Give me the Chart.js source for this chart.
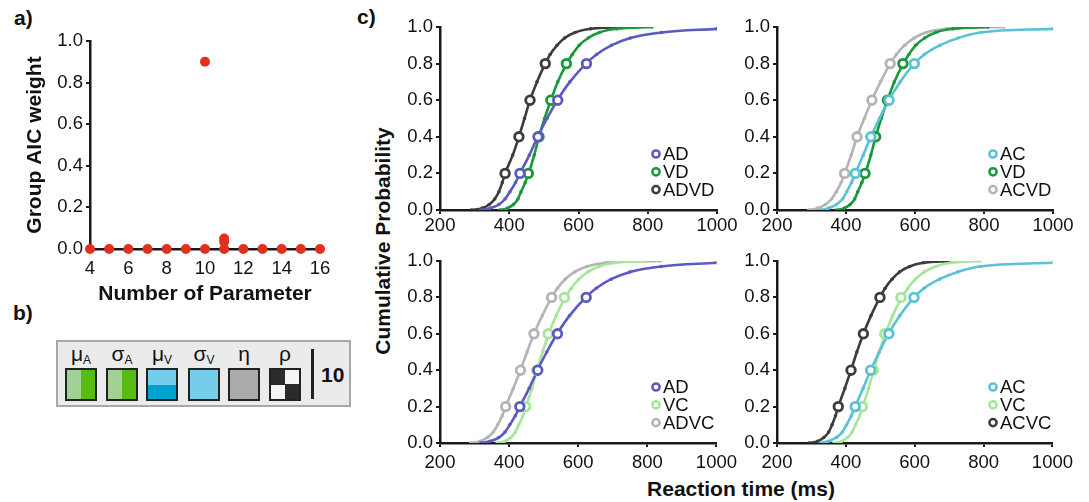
<!DOCTYPE html>
<html lang="en">
<head>
  <meta charset="UTF-8">
  <title>AIC weights and RT distributions</title>
  <script src="https://cdn.jsdelivr.net/npm/chart.js"></script>
  <style>
    body {
      margin: 0;
      background: #fff;
      font-family: "Liberation Sans", Arial, sans-serif;
      color: #111;
    }
    #page {
      position: relative;
      width: 1089px;
      height: 502px;
      overflow: hidden;
    }
    canvas, .abs {
      position: absolute;
    }
    .panel-label {
      font-weight: bold;
      font-size: 21px;
    }
    .axis-title {
      font-weight: bold;
      font-size: 21px;
      white-space: nowrap;
      transform: translate(-50%, -50%);
    }
    #paramBox {
      left: 56px;
      top: 340px;
      width: 295px;
      height: 67px;
      box-sizing: border-box;
      background: #ebebeb;
      border: 2px solid #a8a8a8;
    }
    .sq {
      top: 368px;
      width: 32px;
      height: 33px;
      box-sizing: border-box;
      border: 2px solid #222;
      overflow: hidden;
    }
    .greek {
      top: 343px;
      width: 40px;
      text-align: center;
      font-size: 21px;
      line-height: 21px;
    }
    .greek span {
      font-size: 12px;
      position: relative;
      top: 3px;
    }
  </style>
</head>
<body>
<div id="page">
  <div class="abs panel-label" style="left:14px;top:6px">a)</div>
  <div class="abs panel-label" style="left:13px;top:301px">b)</div>
  <div class="abs panel-label" style="left:357px;top:5px">c)</div>

  <!-- panel b: parameter key of the winning model -->
  <div class="abs" id="paramBox"></div>
  <div class="abs greek" style="left:61px">μ<span>A</span></div>
  <div class="abs greek" style="left:102px">σ<span>A</span></div>
  <div class="abs greek" style="left:142px">μ<span>V</span></div>
  <div class="abs greek" style="left:184px">σ<span>V</span></div>
  <div class="abs greek" style="left:224px">η</div>
  <div class="abs greek" style="left:265px">ρ</div>
  <div class="abs sq" style="left:65px;background:linear-gradient(to right,#a0d295 50%,#56bb12 50%)"></div>
  <div class="abs sq" style="left:106px;background:linear-gradient(to right,#a0d295 50%,#56bb12 50%)"></div>
  <div class="abs sq" style="left:146px;background:linear-gradient(to bottom,#74cdea 50%,#00a2d4 50%)"></div>
  <div class="abs sq" style="left:188px;background:#74cdea"></div>
  <div class="abs sq" style="left:228px;background:#aaaaaa"></div>
  <div class="abs sq" style="left:269px;background:conic-gradient(#f5f5f5 0 25%,#2b2b2b 0 50%,#f5f5f5 0 75%,#2b2b2b 0)"></div>
  <div class="abs" style="left:311px;top:349px;width:3px;height:50px;background:#222"></div>
  <div class="abs" style="left:321px;top:363px;font-weight:bold;font-size:21px;line-height:23px">10</div>

  <div class="abs axis-title" style="left:383px;top:241px;transform:translate(-50%,-50%) rotate(-90deg)">Cumulative Probability</div>
  <div class="abs axis-title" style="left:741px;top:489px">Reaction time (ms)</div>
</div>

<script>
  // ---- panel a: group AIC weight per number of parameters ----
  const aicParams  = [4, 5, 6, 7, 8, 9, 10, 10, 11, 11, 11, 12, 13, 14, 15, 16];
  const aicWeights = [0, 0, 0, 0, 0, 0, 0.9, 0, 0.05, 0.035, 0, 0, 0, 0, 0, 0];

  // ---- panel c: cumulative RT distributions ----
  const cdfLevels = [0, 0.01, 0.03, 0.06, 0.1, 0.15, 0.2, 0.3, 0.4, 0.5, 0.6, 0.7, 0.8, 0.85, 0.9, 0.94, 0.97, 0.99, 1];
  const rtAD   = [318, 345, 370, 388, 402, 418, 431, 458, 482, 509, 539, 575, 622, 652, 695, 750, 840, 1000, null];
  const rtVD   = [372, 395, 412, 425, 434, 446, 456, 472, 486, 502, 520, 540, 566, 582, 602, 628, 660, 710, 812];
  const rtADVD = [290, 322, 342, 358, 370, 380, 388, 410, 428, 444, 460, 480, 504, 518, 538, 560, 590, 635, 730];
  const rtAC   = [326, 350, 372, 390, 402, 416, 427, 450, 472, 497, 524, 557, 598, 627, 672, 725, 790, 1000, null];
  const rtACVD = [292, 318, 340, 358, 372, 386, 396, 415, 432, 453, 475, 500, 528, 546, 570, 598, 632, 690, 857];
  const rtVC   = [366, 388, 405, 418, 428, 440, 449, 466, 481, 497, 515, 536, 563, 580, 602, 628, 660, 705, 790];
  const rtADVC = [289, 316, 337, 354, 367, 380, 390, 412, 433, 452, 472, 496, 523, 540, 562, 590, 625, 680, 837];
  const rtACVC = [292, 318, 336, 350, 360, 370, 378, 397, 415, 432, 451, 473, 499, 514, 534, 556, 585, 625, 706];

  // observed quantiles (open circles)
  const quantLevels = [0.2, 0.4, 0.6, 0.8];
  const qAD   = [431, 483, 540, 623];
  const qVD   = [455, 486, 520, 565];
  const qADVD = [388, 428, 460, 504];
  const qAC   = [427, 472, 525, 598];
  const qACVD = [396, 432, 475, 528];
  const qVC   = [448, 480, 513, 560];
  const qADVC = [390, 433, 472, 523];
  const qACVC = [378, 415, 451, 499];

  const curves = {
    AD:   { rt: rtAD,   q: qAD,   color: '#5b5bbf' },
    VD:   { rt: rtVD,   q: qVD,   color: '#17993b' },
    ADVD: { rt: rtADVD, q: qADVD, color: '#3d3d3d' },
    AC:   { rt: rtAC,   q: qAC,   color: '#5bc1d6' },
    ACVD: { rt: rtACVD, q: qACVD, color: '#b4b4b4' },
    VC:   { rt: rtVC,   q: qVC,   color: '#a6e59c' },
    ADVC: { rt: rtADVC, q: qADVC, color: '#b4b4b4' },
    ACVC: { rt: rtACVC, q: qACVC, color: '#3d3d3d' }
  };

  Chart.defaults.font.family = '"Liberation Sans", Arial, sans-serif';
  Chart.defaults.color = '#111';
  Chart.defaults.animation = false;

  const AXIS = '#1a1a1a';
  const TICK_SIZE = 18.5;

  function axis(extra) {
    return Object.assign({
      type: 'linear',
      border: { display: true, color: AXIS, width: 2.5 },
      grid: { drawOnChartArea: false, drawTicks: true, tickLength: 4, color: AXIS, lineWidth: 2 },
    }, extra);
  }

  // put a canvas on the page so that the plot area lands on the given box
  function addCanvas(id, area, pad) {
    const c = document.createElement('canvas');
    c.id = id;
    c.width = area.right - area.left + pad.left + pad.right;
    c.height = area.bottom - area.top + pad.top + pad.bottom;
    c.style.left = (area.left - pad.left) + 'px';
    c.style.top = (area.top - pad.top) + 'px';
    document.getElementById('page').appendChild(c);
    return c;
  }

  // ---- panel a ----
  const cA = addCanvas('aicChart', { left: 90, top: 41, right: 320, bottom: 249 },
                       { left: 90, top: 41, right: 25, bottom: 61 });
  new Chart(cA, {
    type: 'scatter',
    data: {
      datasets: [{
        data: aicParams.map((p, i) => ({ x: p, y: aicWeights[i] })),
        backgroundColor: '#e0301e',
        borderWidth: 0,
        pointRadius: 5,
        clip: false
      }]
    },
    options: {
      responsive: false,
      layout: { padding: { left: 14, top: 41, right: 25, bottom: 0 } },
      plugins: { legend: { display: false }, tooltip: { enabled: false } },
      scales: {
        x: axis({
          min: 4, max: 16,
          ticks: { stepSize: 2, padding: 5, font: { size: TICK_SIZE } },
          title: { display: true, text: 'Number of Parameter', font: { size: 21, weight: 'bold' }, padding: { top: 0, bottom: 3 } },
          afterFit: s => { s.height = 61; }
        }),
        y: axis({
          min: 0, max: 1,
          ticks: { stepSize: 0.2, padding: 3, font: { size: TICK_SIZE }, callback: v => v.toFixed(1) },
          title: { display: true, text: 'Group AIC weight', font: { size: 21, weight: 'bold' }, padding: { top: 9, bottom: 0 } },
          afterFit: s => { s.width = 76; }
        })
      }
    }
  });

  // legend drawn inside the lower right of the plot area
  const cornerLegend = {
    id: 'cornerLegend',
    afterDatasetsDraw(chart) {
      const { ctx, chartArea } = chart;
      const items = chart.data.datasets.filter(d => d.showInCorner);
      ctx.save();
      items.forEach((d, i) => {
        const x = chartArea.left + 216;
        const y = chartArea.bottom - 56 + i * 17.8;
        ctx.beginPath();
        ctx.arc(x, y, 3.6, 0, Math.PI * 2);
        ctx.fillStyle = '#fff';
        ctx.fill();
        ctx.lineWidth = 2.5;
        ctx.strokeStyle = d.borderColor;
        ctx.stroke();
        ctx.fillStyle = '#111';
        ctx.font = TICK_SIZE + 'px "Liberation Sans", Arial, sans-serif';
        ctx.textBaseline = 'middle';
        ctx.textAlign = 'left';
        ctx.fillText(d.label, x + 7, y + 1);
      });
      ctx.restore();
    }
  };

  function cdfChart(id, area, names, tickPad) {
    const canvas = addCanvas(id, area, { left: 60, top: 20, right: 25, bottom: 35 });
    const datasets = [];
    names.forEach(name => {
      const c = curves[name];
      datasets.push({
        label: name,
        showInCorner: true,
        data: c.q.map((v, i) => ({ x: v, y: quantLevels[i] })),
        showLine: false,
        borderColor: c.color,
        backgroundColor: '#fff',
        pointRadius: 4.3,
        borderWidth: 2.8,
        order: 0
      });
    });
    names.forEach(name => {
      const c = curves[name];
      datasets.push({
        label: name + ' fit',
        data: c.rt.map((v, i) => ({ x: v, y: cdfLevels[i] })).filter(p => p.x !== null),
        showLine: true,
        cubicInterpolationMode: 'monotone',
        borderColor: c.color,
        backgroundColor: c.color,
        borderWidth: 2.6,
        pointRadius: 1.8,
        pointBorderWidth: 0,
        order: 1
      });
    });
    return new Chart(canvas, {
      type: 'scatter',
      data: { datasets },
      plugins: [cornerLegend],
      options: {
        responsive: false,
        layout: { padding: { left: 0, top: 20, right: 25, bottom: 0 } },
        plugins: { legend: { display: false }, tooltip: { enabled: false } },
        scales: {
          x: axis({
            min: 200, max: 1000,
            ticks: { stepSize: 200, padding: tickPad, font: { size: TICK_SIZE }, callback: v => String(v) },
            afterFit: s => { s.height = 35; }
          }),
          y: axis({
            min: 0, max: 1,
            ticks: { stepSize: 0.2, padding: 3, font: { size: TICK_SIZE }, callback: v => v.toFixed(1) },
            afterFit: s => { s.width = 60; }
          })
        }
      }
    });
  }

  cdfChart('cdfTL', { left: 440, top: 27, right: 717, bottom: 210 }, ['AD', 'VD', 'ADVD'], 1);
  cdfChart('cdfTR', { left: 777, top: 27, right: 1053, bottom: 210 }, ['AC', 'VD', 'ACVD'], 1);
  cdfChart('cdfBL', { left: 440, top: 261, right: 717, bottom: 443 }, ['AD', 'VC', 'ADVC'], 5);
  cdfChart('cdfBR', { left: 777, top: 261, right: 1053, bottom: 443 }, ['AC', 'VC', 'ACVC'], 5);
</script>
</body>
</html>
